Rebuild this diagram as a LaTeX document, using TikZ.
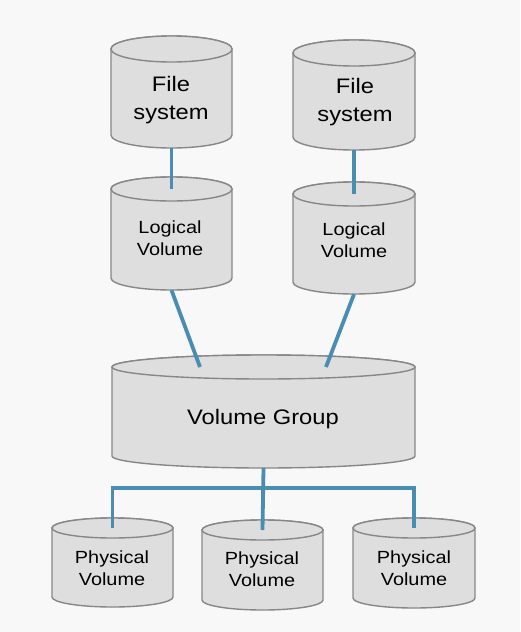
\documentclass[tikz,border=0pt]{standalone}
\usepackage{fontspec}
\setmainfont[FakeStretch=1.13]{Liberation Sans}
\definecolor{bg}{HTML}{F8F8F8}
\definecolor{cylfillc}{HTML}{DEDEDE}
\definecolor{cyledge}{HTML}{878787}
\definecolor{linkc}{HTML}{4A8DB3}
\tikzset{
  cylbody/.style={fill=cylfillc, draw=cyledge, line width=1.4pt},
  link/.style={draw=linkc, line width=3.8pt},
  bigtxt/.style={align=center, inner sep=0pt, font=\fontsize{21}{28.3}\selectfont},
  midtxt/.style={align=center, inner sep=0pt, font=\fontsize{17.6}{21.5}\selectfont},
  vgtxt/.style={align=center, inner sep=0pt, font=\fontsize{21}{25}\selectfont},
}
% name, cx, top, bottom, half width, y radius
\newcommand{\mycyl}[6]{%
  \path[cylbody] (#2-#5,#3+#6) -- (#2-#5,#4-#6)
     arc[start angle=180, end angle=0, x radius=#5, y radius=#6]
     -- (#2+#5,#3+#6)
     arc[start angle=0, end angle=-180, x radius=#5, y radius=#6] -- cycle;
  \draw[cylbody] (#2,#3+#6) ellipse[x radius=#5, y radius=#6];
  \node[inner sep=0, minimum width=2*#5, minimum height=#4-#3] (#1) at (#2,{(#3+#4)/2}) {};
  \coordinate (#1-t) at (#2,#3+#6);
}
\begin{document}
\begin{tikzpicture}[x=1pt, y=-1pt]
\useasboundingbox[fill=bg] (0,0) rectangle (520,632);
% cylinders
\mycyl{fsL}{171.5}{36}{148}{60.5}{13}
\mycyl{fsR}{354}{40}{150}{61}{13}
\mycyl{lvL}{171.5}{177}{290}{60.5}{12}
\mycyl{lvR}{354}{182}{294}{61}{12}
\mycyl{vg}{263.5}{355}{468}{151.5}{12}
\mycyl{pvL}{112.5}{518}{607}{60.5}{10}
\mycyl{pvM}{262.5}{520}{610}{60.5}{10}
\mycyl{pvR}{414}{518}{608}{61}{10}
% texts
\node[bigtxt] (fsLt) at (171,100.4) {File\\system};
\node[bigtxt] (fsRt) at (355,102) {File\\system};
\node[midtxt] (lvLt) at (170,238.3) {Logical\\Volume};
\node[midtxt] (lvRt) at (354,240) {Logical\\Volume};
\node[vgtxt] (vgt) at (263,419.5) {Volume Group};
\node[midtxt] (pvLt) at (112,568) {Physical\\Volume};
\node[midtxt] (pvMt) at (262,569) {Physical\\Volume};
\node[midtxt] (pvRt) at (414,568) {Physical\\Volume};
% connectors
\coordinate (vgA) at (200,367);
\coordinate (vgB) at (326,367);
\coordinate (bus) at (263,488);
\draw[link] (fsL.south) -- (lvL-t);
\draw[link] (fsR.south) -- (lvR-t);
\draw[link] (lvL.south) -- (vgA);
\draw[link] (lvR.south) -- (vgB);
\draw[link] (vg.south) -- (pvM-t);
\draw[link] (pvL-t) -- (pvL-t |- bus) -- (pvR-t |- bus) -- (pvR-t);
\end{tikzpicture}
\end{document}
